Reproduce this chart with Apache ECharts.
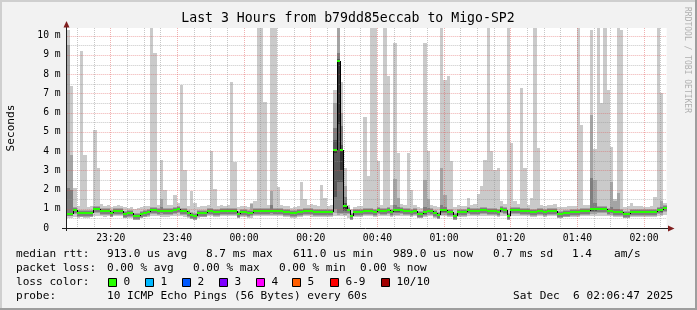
<!DOCTYPE html>
<html><head><meta charset="utf-8">
<script src="https://cdn.jsdelivr.net/npm/echarts@6/dist/echarts.min.js"></script>
<style>html,body{margin:0;padding:0;background:#f2f2f2}#c{width:697px;height:310px}</style>
</head><body><div id="c"></div>
<script>
// Time axis in minutes after 23:00; window 23:06:47 .. 02:06:47, one step per minute
const START = 6 + 47 / 60;
const END = START + 180;

// median rtt (ms) per minute
const median = [
0.72,0.72,0.95,0.78,0.78,0.76,0.76,0.76,0.98,0.98, 0.9,0.9,0.9,0.8,0.9,0.9,0.9,0.72,0.76,0.76,
0.64,0.64,0.72,0.8,0.84,0.95,0.95,0.9,0.9,0.86, 0.86,0.9,0.95,0.98,0.88,0.88,0.78,0.7,0.64,0.78,
0.78,0.78,0.91,0.91,0.84,0.84,0.88,0.88,0.88,0.9, 0.9,0.72,0.84,0.84,0.76,0.76,0.91,0.91,0.88,0.88,
0.88,0.88,0.9,0.9,0.9,0.81,0.81,0.76,0.76,0.84, 0.84,0.88,0.88,0.88,0.84,0.84,0.84,0.84,0.84,0.82,
4.07,8.69,4.04,1.17,0.93,0.62,0.81,0.81,0.81,0.9, 0.9,0.9,0.84,0.95,0.9,0.9,0.95,0.84,0.95,0.95,
0.95,0.9,0.9,0.81,0.9,0.72,0.72,0.81,0.9,0.9, 0.78,0.67,0.95,0.95,0.84,0.84,0.64,0.81,0.81,0.81,
0.95,0.9,0.9,0.9,0.95,0.95,0.9,0.9,0.9,0.81, 1.0,0.95,0.64,0.95,0.95,0.95,0.9,0.9,0.9,0.81,
0.81,0.9,0.9,0.81,0.9,0.9,0.9,0.72,0.72,0.78, 0.78,0.84,0.84,0.84,0.9,0.9,0.9,0.98,0.98,0.98,
0.98,0.98,0.9,0.9,0.84,0.84,0.84,0.72,0.72,0.81, 0.81,0.81,0.84,0.84,0.84,0.81,0.81,0.95,0.95,1.05
];
// max ping (ms) per minute
const hi = [
10.3,7.36,2.1,1.15,9.2,3.8,1.1,1.15,5.1,3.1, 1.25,1.15,1.2,1.1,1.15,1.2,1.15,1.1,1.05,1.1,
1.0,1.05,1.1,1.15,1.15,11,9.1,1.2,3.55,2.0, 1.2,1.2,1.7,1.3,7.45,3.04,1.15,1.9,1.3,1.1,
1.15,1.15,1.2,4.0,2.05,1.15,1.2,1.15,1.2,7.6, 3.42,1.1,1.15,1.15,1.1,1.3,1.4,11,11,6.56,
1.2,11,11,2.14,1.2,1.15,1.15,1.05,1.1,1.15, 2.38,1.5,1.2,1.25,1.2,1.15,2.22,1.57,1.15,1.2,
7.18,11,7.6,3.1,1.2,1.0,1.1,1.15,1.15,5.75, 2.73,11,11,3.5,1.2,11,7.9,1.2,9.64,3.9,
1.25,1.2,3.9,2.0,1.2,1.1,1.05,9.64,4.0,1.2, 1.15,1.1,11,7.7,7.9,3.5,1.1,1.2,1.15,1.15,
1.57,1.2,1.25,1.78,2.18,3.56,11,4.0,3.0,3.1, 1.4,1.25,11,4.4,1.4,1.25,7.3,3.13,1.2,1.57,
11,4.16,1.2,1.15,1.2,1.2,1.25,1.1,1.1,1.1, 1.15,1.15,1.15,11,5.37,1.2,1.2,10.3,4.1,11,
6.5,11,7.2,4.2,1.5,11,10.3,1.1,1.15,1.28, 1.15,1.15,1.15,1.1,1.1,1.15,1.62,11,7.0,1.3
];
// min ping (ms) per minute
const lo = [
0.5,0.5,0.55,0.5,0.55,0.5,0.5,0.55,0.6,0.6, 0.6,0.55,0.6,0.55,0.6,0.6,0.6,0.5,0.5,0.5,
0.4,0.45,0.5,0.55,0.55,0.6,0.6,0.6,0.55,0.55, 0.55,0.6,0.6,0.6,0.6,0.55,0.5,0.45,0.45,0.5,
0.55,0.55,0.6,0.6,0.55,0.55,0.6,0.6,0.6,0.6, 0.6,0.5,0.55,0.55,0.5,0.5,0.6,0.6,0.6,0.6,
0.6,0.6,0.6,0.6,0.6,0.55,0.55,0.5,0.5,0.55, 0.55,0.6,0.6,0.55,0.55,0.55,0.55,0.55,0.55,0.55,
0.6,0.6,0.6,0.6,0.5,0.4,0.55,0.55,0.55,0.6, 0.6,0.6,0.55,0.6,0.6,0.6,0.6,0.55,0.6,0.6,
0.6,0.6,0.6,0.55,0.6,0.5,0.5,0.55,0.6,0.6, 0.5,0.45,0.6,0.6,0.55,0.55,0.45,0.55,0.55,0.55,
0.6,0.6,0.6,0.6,0.6,0.6,0.6,0.6,0.6,0.55, 0.65,0.6,0.45,0.6,0.6,0.6,0.6,0.6,0.6,0.55,
0.55,0.6,0.6,0.55,0.6,0.6,0.6,0.5,0.5,0.55, 0.55,0.55,0.55,0.55,0.6,0.6,0.6,0.65,0.65,0.65,
0.65,0.65,0.6,0.6,0.55,0.55,0.55,0.5,0.5,0.55, 0.55,0.55,0.55,0.55,0.55,0.55,0.55,0.6,0.6,0.7
];
// full sorted 10-ping sets for minutes with a wide spread
const pingDetail = {
  0:[0.5,0.6,0.65,0.7,0.72,0.72,0.8,2.1,9.5,10.3],
  1:[0.5,0.6,0.65,0.7,0.72,0.72,0.8,2.0,3.8,7.36],
  28:[0.55,0.7,0.8,0.85,0.9,0.9,0.95,1.1,1.5,3.55],
  55:[0.5,0.65,0.7,0.74,0.76,0.76,0.8,0.9,1.25,1.3],
  61:[0.6,0.7,0.8,0.85,0.88,0.88,0.95,1.2,1.9,11],
  80:[0.6,0.8,1.0,1.6,3.9,4.07,4.6,5.2,6.5,7.18],
  81:[0.6,0.7,0.8,2.4,5.4,8.69,8.8,9.1,11,12],
  82:[0.6,0.75,0.8,2.4,3.0,4.04,4.3,5.3,6.0,7.6],
  83:[0.6,0.7,0.8,0.9,1.0,1.17,1.3,1.6,2.2,3.1],
  98:[0.6,0.7,0.8,0.85,0.9,0.95,1.0,1.2,2.57,9.64],
  99:[0.6,0.7,0.8,0.85,0.9,0.95,1.0,1.1,1.57,3.9],
  107:[0.55,0.65,0.7,0.75,0.78,0.81,0.9,1.1,2.52,9.64],
  108:[0.6,0.7,0.8,0.85,0.88,0.9,0.95,1.05,1.5,4.0],
  112:[0.6,0.7,0.8,0.85,0.9,0.95,1.0,1.2,3.1,11],
  113:[0.6,0.7,0.8,0.85,0.9,0.95,1.0,1.1,1.74,7.7],
  157:[0.65,0.75,0.85,0.9,0.95,0.98,1.05,2.6,5.9,10.3],
  158:[0.65,0.75,0.85,0.9,0.95,0.98,1.05,1.3,2.5,4.1],
  163:[0.6,0.7,0.8,0.85,0.88,0.9,0.95,1.1,2.4,4.2],
  164:[0.55,0.65,0.7,0.78,0.82,0.84,0.9,1.0,1.4,1.5],
  165:[0.55,0.65,0.7,0.78,0.82,0.84,0.9,1.0,1.83,11],
  178:[0.6,0.7,0.8,0.85,0.9,0.95,1.0,1.1,1.4,7.0]
};
// axis / grid values
const yLabelValues = [0,1,2,3,4,5,6,7,8,9,10];
const yMajorGrid = [1,2,3,4,5,6,7,8,9,10];
const yMinorGrid = [0.5,1.5,2.5,3.5,4.5,5.5,6.5,7.5,8.5,9.5];
const xLabelMinutes = [20,40,60,80,100,120,140,160,180];
const xMinorGrid = [10,15,25,30,35,45,50,55,65,70,75,85,90,95,105,110,115,125,130,135,145,150,155,165,170,175,185];
const Y_MAX = 10.4;

const SMOKE = ['#cacaca','#a4a4a4','#7e7e7e','#585858','#323232'];
const GREEN = '#26ff00';
const MONO = 'DejaVu Sans Mono';
const MGRID = 'rgba(222,79,79,0.45)';
const GRID = 'rgba(143,143,143,0.5)';

function colRect(params, api, i) {
  const cs = params.coordSys;
  const x0 = START + i;
  let left = Math.round(api.coord([x0, 0])[0]);
  let right = Math.round(api.coord([x0 + 1, 0])[0]);
  left = Math.max(left, Math.round(cs.x));
  right = Math.min(right, Math.round(cs.x + cs.width));
  const Y = v => Math.round(Math.min(cs.y + cs.height, Math.max(cs.y, api.coord([x0, v])[1])));
  return {left, right, Y};
}

function smokeItem(params, api) {
  const i = api.value(2);
  const {left, right, Y} = colRect(params, api, i);
  if (right <= left) return null;
  const w = right - left;
  const band = (a, b, fill) => {
    const ya = Y(a), yb = Y(b);
    return {type:'rect', shape:{x:left, y:yb, width:w, height:Math.max(0, ya - yb)}, style:{fill}};
  };
  const pxBand = (ym, up, down, fill) => ({type:'rect', shape:{x:left, y:ym - up, width:w, height:up + down + 1}, style:{fill}});
  const children = [];
  const d = pingDetail[i];
  if (d) {
    for (let k = 0; k < 5; k++) children.push(band(d[k], d[9 - k], SMOKE[k]));
  } else {
    children.push(band(lo[i], hi[i], SMOKE[0]));
    const ym = Y(median[i]);
    children.push(pxBand(ym, 3, 3, SMOKE[1]), pxBand(ym, 2, 2, SMOKE[2]));
  }
  return {type:'group', children};
}

function medianItem(params, api) {
  const i = api.value(2);
  const {left, right, Y} = colRect(params, api, i);
  if (right <= left) return null;
  const ym = Y(median[i]);
  const children = [];
  if (i > 0) {
    const yp = Y(median[i - 1]);
    if (yp !== ym) children.push({type:'line', shape:{x1:left + 0.5, y1:yp, x2:left + 0.5, y2:ym}, style:{stroke:'#000', lineWidth:1}});
  }
  children.push({type:'rect', shape:{x:left, y:ym - 1, width:right - left, height:2}, style:{fill:GREEN}});
  return {type:'group', children};
}

function gridItem(params, api) {
  const kind = api.value(2);
  const cs = params.coordSys;
  if (kind < 2) {
    const y = Math.round(api.coord([START, api.value(1)])[1]) + 0.5;
    return {type:'line', shape:{x1:cs.x, y1:y, x2:cs.x + cs.width, y2:y},
      style:{stroke: kind === 0 ? MGRID : GRID, lineWidth:1, lineDash:[1,1]}};
  }
  const x = Math.floor(api.coord([api.value(0), 0])[0]) + 0.5;
  return {type:'line', shape:{x1:x, y1:cs.y, x2:x, y2:cs.y + cs.height},
    style:{stroke: kind === 2 ? MGRID : GRID, lineWidth:1, lineDash:[1,1]}};
}

const colData = median.map((m, i) => [START + i, m, i]);
const gridData = [].concat(
  yMajorGrid.map(v => [START, v, 0]),
  yMinorGrid.map(v => [START, v, 1]),
  xLabelMinutes.map(v => [v, 0, 2]),
  xMinorGrid.map(v => [v, 0, 3])
);

function fmtTime(m) {
  const t = (23 * 60 + m) % (24 * 60);
  const h = Math.floor(t / 60), mm = t % 60;
  return String(h).padStart(2, '0') + ':' + String(mm).padStart(2, '0');
}

// y is the vertical middle of the text line
const txt = (x, y, s, opts) => Object.assign({type:'text', x, y, z:100,
  style:Object.assign({text:s, font:'11.1px "' + MONO + '"', fill:'#000', textVerticalAlign:'middle'}, opts || {})});

const legendColors = ['#26ff00','#00b8ff','#0059ff','#7e00ff','#ff00ff','#ff5e00','#ff0000','#a10000'];
const legendNames = ['0','1','2','3','4','5','6-9','10/10'];
const legendBoxX = [108.5,145.5,182.5,219.5,256.5,292.5,330.5,381.5];

const L1 = 254.5, L2 = 268.5, L3 = 282.5, L4 = 296.5;
const graphic = [
  {type:'rect', shape:{x:0, y:0, width:697, height:2}, style:{fill:'#cfcfcf'}, z:100},
  {type:'rect', shape:{x:0, y:0, width:2, height:310}, style:{fill:'#cfcfcf'}, z:100},
  {type:'rect', shape:{x:0, y:308, width:697, height:2}, style:{fill:'#9e9e9e'}, z:100},
  {type:'rect', shape:{x:695, y:0, width:2, height:310}, style:{fill:'#9e9e9e'}, z:100},
  // axes
  {type:'line', shape:{x1:66.5, y1:231, x2:66.5, y2:27}, style:{stroke:'#1f1f1f', lineWidth:1}, z:100},
  {type:'line', shape:{x1:62, y1:228.5, x2:669, y2:228.5}, style:{stroke:'#1f1f1f', lineWidth:1}, z:100},
  {type:'polygon', shape:{points:[[63.5,27.5],[66.5,21],[69.5,27.5]]}, style:{fill:'#801f1f'}, z:100},
  {type:'polygon', shape:{points:[[668,225.5],[674.5,228.5],[668,231.5]]}, style:{fill:'#801f1f'}, z:100},
  // title and side texts
  txt(348, 19, 'Last 3 Hours from b79dd85eccab to Migo-SP2', {font:'13.2px "' + MONO + '"', textAlign:'center'}),
  {type:'text', x:11, y:128, rotation:Math.PI / 2, z:100,
    style:{text:'Seconds', font:'11.1px "' + MONO + '"', fill:'#000', textAlign:'center', textVerticalAlign:'middle'}},
  {type:'text', x:687, y:60, rotation:-Math.PI / 2, z:100,
    style:{text:'RRDTOOL / TOBI OETIKER', font:'8px "' + MONO + '"', fill:'#b0b0b0', textAlign:'center', textVerticalAlign:'middle'}},
  // legend lines
  txt(16, L1, 'median rtt:'), txt(107, L1, '913.0 us avg'), txt(206, L1, '8.7 ms max'),
  txt(293, L1, '611.0 us min'), txt(393, L1, '989.0 us now'), txt(493, L1, '0.7 ms sd'),
  txt(572, L1, '1.4'), txt(614, L1, 'am/s'),
  txt(16, L2, 'packet loss:'), txt(107, L2, '0.00 % avg'), txt(193, L2, '0.00 % max'),
  txt(279, L2, '0.00 % min'), txt(360, L2, '0.00 % now'),
  txt(16, L3, 'loss color:'),
  txt(16, L4, 'probe:'), txt(107, L4, '10 ICMP Echo Pings (56 Bytes) every 60s'),
  txt(513, L4, 'Sat Dec  6 02:06:47 2025')
];
legendColors.forEach((c, k) => {
  graphic.push({type:'rect', shape:{x:legendBoxX[k], y:278.5, width:8, height:8}, style:{fill:c, stroke:'#000', lineWidth:1}, z:100});
  graphic.push(txt(legendBoxX[k] + 15, L3, legendNames[k]));
});

const chart = echarts.init(document.getElementById('c'), null, {renderer:'canvas'});
chart.setOption({
  animation:false,
  backgroundColor:'#f2f2f2',
  grid:{left:66.7, top:28, width:600, height:200, show:true, backgroundColor:'#ffffff', borderWidth:0},
  xAxis:{type:'value', min:START, max:END, axisLine:{show:false}, axisTick:{show:false}, splitLine:{show:false},
    axisLabel:{customValues:xLabelMinutes, formatter:v => fmtTime(Math.round(v)), fontFamily:MONO, fontSize:9.7, color:'#000', margin:5}},
  yAxis:{type:'value', min:0, max:Y_MAX, interval:1, axisLine:{show:false}, axisTick:{show:false}, splitLine:{show:false},
    axisLabel:{customValues:yLabelValues, formatter:v => (v === 0 ? '0  ' : v + ' m'), fontFamily:MONO, fontSize:9.7, color:'#000', margin:6}},
  series:[
    {type:'custom', name:'smoke', renderItem:smokeItem, data:colData, encode:{x:0, y:1}, z:1, clip:true, silent:true},
    {type:'custom', name:'grid', renderItem:gridItem, data:gridData, encode:{x:0, y:1}, z:3, silent:true},
    {type:'custom', name:'median', renderItem:medianItem, data:colData, encode:{x:0, y:1}, z:5, clip:true, silent:true}
  ],
  graphic:graphic
});
</script>
</body></html>
